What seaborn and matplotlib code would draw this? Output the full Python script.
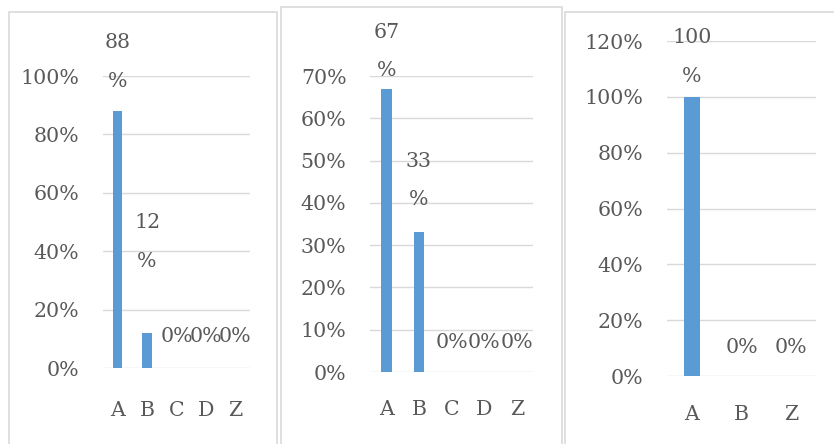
import matplotlib
matplotlib.use("Agg")
import matplotlib.pyplot as plt
import seaborn as sns
import pandas as pd
from matplotlib.patches import Rectangle
from matplotlib.ticker import FuncFormatter

# data for the three panels
cats_1 = ["A", "B", "C", "D", "Z"]
vals_1 = [0.88, 0.12, 0.0, 0.0, 0.0]
labels_1 = ["88\n%", "12\n%", "0%", "0%", "0%"]

cats_2 = ["A", "B", "C", "D", "Z"]
vals_2 = [0.67, 0.33, 0.0, 0.0, 0.0]
labels_2 = ["67\n%", "33\n%", "0%", "0%", "0%"]

cats_3 = ["A", "B", "Z"]
vals_3 = [1.0, 0.0, 0.0]
labels_3 = ["100\n%", "0%", "0%"]

ymax = [1.0, 0.7, 1.2]
ystep = [0.2, 0.1, 0.2]

sns.set_theme(style="white")
plt.rcParams["font.family"] = ["DejaVu Serif"]

W, H = 834, 444
fig = plt.figure(figsize=(W / 100, H / 100), dpi=100)

BAR = "#5b9bd5"
GRID = "#d9d9d9"
TXT = "#595959"
FS = 14.8

# panel frames (pixels: left, top, right, bottom)
frames = [(9, 12, 277, 460), (281, 7, 562, 460), (565, 12, 850, 460)]
for l, t, r, b in frames:
    fig.patches.append(Rectangle((l / W, 1 - b / H), (r - l) / W, (b - t) / H,
                                 transform=fig.transFigure, fill=False,
                                 edgecolor=GRID, linewidth=1.2, clip_on=False))

# plot areas (pixels: left, right, top-gridline, zero-line)
boxes = [(103, 250, 76, 368), (370, 533, 76, 372), (667, 816, 41, 376)]
xpads = [24, 20, 21]
# vertical offset (pixels) of each data label centre above its bar top
label_offsets = [[49, 91, 31, 31, 31], [37, 52, 30, 30, 30], [40, 29, 29]]

panels = [(cats_1, vals_1, labels_1), (cats_2, vals_2, labels_2), (cats_3, vals_3, labels_3)]

for i, (cats, vals, labs) in enumerate(panels):
    l, r, t, b = boxes[i]
    ax = fig.add_axes([l / W, 1 - b / H, (r - l) / W, (b - t) / H])
    df = pd.DataFrame({"cat": cats, "val": vals})
    sns.barplot(data=df, x="cat", y="val", ax=ax, color=BAR, width=0.32,
                saturation=1, edgecolor="none")
    ax.set_ylim(0, ymax[i])
    n_ticks = int(round(ymax[i] / ystep[i])) + 1
    ax.set_yticks([k * ystep[i] for k in range(n_ticks)])
    ax.yaxis.set_major_formatter(FuncFormatter(lambda v, p: f"{v * 100:.0f}%"))
    ax.set_xlabel("")
    ax.set_ylabel("")
    ax.grid(axis="y", color=GRID, linewidth=1.0)
    ax.set_axisbelow(True)
    for s in ax.spines.values():
        s.set_visible(False)
    ax.tick_params(axis="y", length=0, pad=17, labelsize=FS, labelcolor=TXT)
    ax.tick_params(axis="x", length=0, pad=xpads[i], labelsize=FS, labelcolor=TXT)
    ax.set_xlim(-0.5, len(cats) - 0.5)
    for j, (v, lab) in enumerate(zip(vals, labs)):
        ax.annotate(lab, xy=(j, v), xytext=(0, label_offsets[i][j]),
                    textcoords="offset pixels", ha="center", va="center",
                    fontsize=FS, color=TXT, linespacing=2.3, annotation_clip=False)

fig.savefig("out.png", dpi=100, facecolor="white")
